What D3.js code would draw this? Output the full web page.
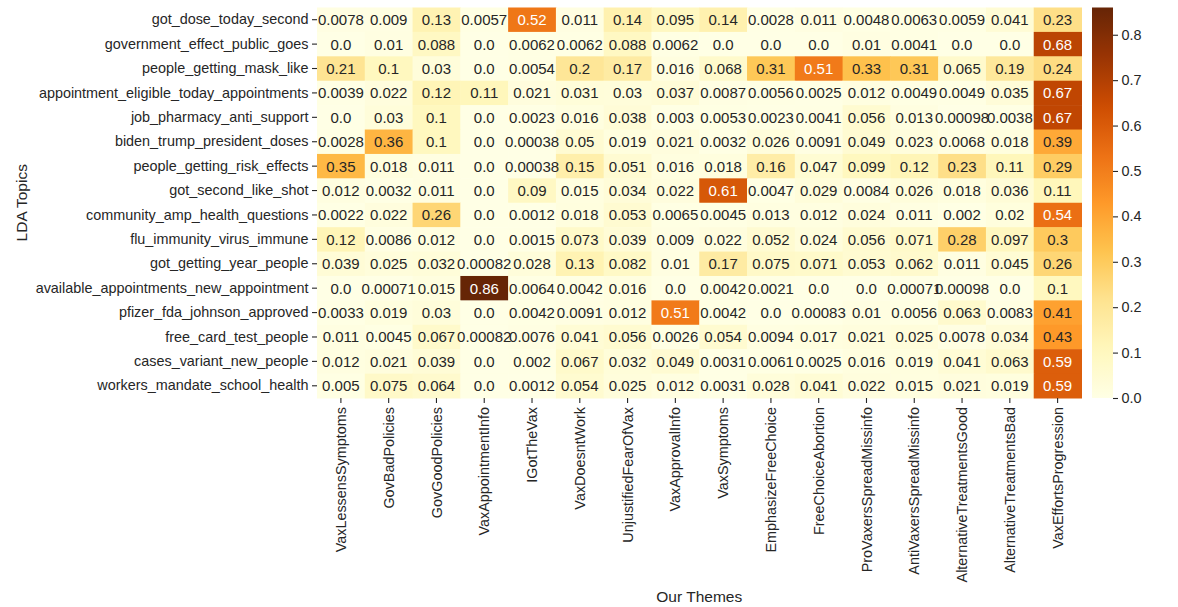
<!DOCTYPE html>
<html>
<head>
<meta charset="utf-8">
<script src="https://cdn.jsdelivr.net/npm/d3@7"></script>
<style>
  html, body { margin: 0; padding: 0; background: #fff; }
  svg { display: block; font-family: "Liberation Sans", Arial, sans-serif; }
</style>
</head>
<body>
<svg id="chart" width="1178" height="607"></svg>
<script>
const themes = ["VaxLessensSymptoms","GovBadPolicies","GovGoodPolicies","VaxAppointmentInfo","IGotTheVax","VaxDoesntWork","UnjustifiedFearOfVax","VaxApprovalInfo","VaxSymptoms","EmphasizeFreeChoice","FreeChoiceAbortion","ProVaxersSpreadMissinfo","AntiVaxersSpreadMissinfo","AlternativeTreatmentsGood","AlternativeTreatmentsBad","VaxEffortsProgression"];

const topics = ["got_dose_today_second","government_effect_public_goes","people_getting_mask_like","appointment_eligible_today_appointments","job_pharmacy_anti_support","biden_trump_president_doses","people_getting_risk_effects","got_second_like_shot","community_amp_health_questions","flu_immunity_virus_immune","got_getting_year_people","available_appointments_new_appointment","pfizer_fda_johnson_approved","free_card_test_people","cases_variant_new_people","workers_mandate_school_health"];

const got_dose_today_second = [0.0078,0.009,0.13,0.0057,0.52,0.011,0.14,0.095,0.14,0.0028,0.011,0.0048,0.0063,0.0059,0.041,0.23];
const government_effect_public_goes = [0.0,0.01,0.088,0.0,0.0062,0.0062,0.088,0.0062,0.0,0.0,0.0,0.01,0.0041,0.0,0.0,0.68];
const people_getting_mask_like = [0.21,0.1,0.03,0.0,0.0054,0.2,0.17,0.016,0.068,0.31,0.51,0.33,0.31,0.065,0.19,0.24];
const appointment_eligible_today_appointments = [0.0039,0.022,0.12,0.11,0.021,0.031,0.03,0.037,0.0087,0.0056,0.0025,0.012,0.0049,0.0049,0.035,0.67];
const job_pharmacy_anti_support = [0.0,0.03,0.1,0.0,0.0023,0.016,0.038,0.003,0.0053,0.0023,0.0041,0.056,0.013,0.00098,0.0038,0.67];
const biden_trump_president_doses = [0.0028,0.36,0.1,0.0,0.00038,0.05,0.019,0.021,0.0032,0.026,0.0091,0.049,0.023,0.0068,0.018,0.39];
const people_getting_risk_effects = [0.35,0.018,0.011,0.0,0.00038,0.15,0.051,0.016,0.018,0.16,0.047,0.099,0.12,0.23,0.11,0.29];
const got_second_like_shot = [0.012,0.0032,0.011,0.0,0.09,0.015,0.034,0.022,0.61,0.0047,0.029,0.0084,0.026,0.018,0.036,0.11];
const community_amp_health_questions = [0.0022,0.022,0.26,0.0,0.0012,0.018,0.053,0.0065,0.0045,0.013,0.012,0.024,0.011,0.002,0.02,0.54];
const flu_immunity_virus_immune = [0.12,0.0086,0.012,0.0,0.0015,0.073,0.039,0.009,0.022,0.052,0.024,0.056,0.071,0.28,0.097,0.3];
const got_getting_year_people = [0.039,0.025,0.032,0.00082,0.028,0.13,0.082,0.01,0.17,0.075,0.071,0.053,0.062,0.011,0.045,0.26];
const available_appointments_new_appointment = [0.0,0.00071,0.015,0.86,0.0064,0.0042,0.016,0.0,0.0042,0.0021,0.0,0.0,0.00071,0.00098,0.0,0.1];
const pfizer_fda_johnson_approved = [0.0033,0.019,0.03,0.0,0.0042,0.0091,0.012,0.51,0.0042,0.0,0.00083,0.01,0.0056,0.063,0.0083,0.41];
const free_card_test_people = [0.011,0.0045,0.067,0.00082,0.0076,0.041,0.056,0.0026,0.054,0.0094,0.017,0.021,0.025,0.0078,0.034,0.43];
const cases_variant_new_people = [0.012,0.021,0.039,0.0,0.002,0.067,0.032,0.049,0.0031,0.0061,0.0025,0.016,0.019,0.041,0.063,0.59];
const workers_mandate_school_health = [0.005,0.075,0.064,0.0,0.0012,0.054,0.025,0.012,0.0031,0.028,0.041,0.022,0.015,0.021,0.019,0.59];

const rows = [got_dose_today_second, government_effect_public_goes, people_getting_mask_like,
  appointment_eligible_today_appointments, job_pharmacy_anti_support, biden_trump_president_doses,
  people_getting_risk_effects, got_second_like_shot, community_amp_health_questions,
  flu_immunity_virus_immune, got_getting_year_people, available_appointments_new_appointment,
  pfizer_fda_johnson_approved, free_card_test_people, cases_variant_new_people, workers_mandate_school_health];

const colorbarTicks = [0.0,0.1,0.2,0.3,0.4,0.5,0.6,0.7,0.8];

// ---- layout ----
const svg = d3.select("#chart");
const pLeft = 317, pRight = 1081.5, pTop = 7.5, pBottom = 398;
const textColor = "#262626";

const cells = [];
rows.forEach((r, i) => r.forEach((v, j) => cells.push({row: topics[i], col: themes[j], v})));
const vmax = d3.max(cells, d => d.v);

const x = d3.scaleBand().domain(themes).range([pLeft, pRight]).padding(0);
const y = d3.scaleBand().domain(topics).range([pTop, pBottom]).padding(0);

const brewer = ["#ffffe5","#fff7bc","#fee391","#fec44f","#fe9929","#ec7014","#cc4c02","#993404","#662506"];
const color = d3.scaleLinear()
  .domain(brewer.map((_, i) => vmax * i / (brewer.length - 1)))
  .range(brewer)
  .interpolate(d3.interpolateRgb)
  .clamp(true);

function lum(c) {
  const rgb = d3.rgb(c);
  const f = u => { u /= 255; return u <= 0.03928 ? u / 12.92 : Math.pow((u + 0.055) / 1.055, 2.4); };
  return 0.2126 * f(rgb.r) + 0.7152 * f(rgb.g) + 0.0722 * f(rgb.b);
}
function fmt(v) {
  if (v === 0) return "0.0";
  return String(+v.toPrecision(2));
}

const g = svg.append("g");
g.selectAll("rect.cell").data(cells).join("rect")
  .attr("class", "cell")
  .attr("x", d => x(d.col))
  .attr("y", d => y(d.row))
  .attr("width", x.bandwidth() + 0.5)
  .attr("height", y.bandwidth() + 0.5)
  .attr("fill", d => color(d.v));

g.selectAll("text.ann").data(cells).join("text")
  .attr("class", "ann")
  .attr("x", d => x(d.col) + x.bandwidth() / 2)
  .attr("y", d => y(d.row) + y.bandwidth() / 2)
  .attr("text-anchor", "middle")
  .attr("dominant-baseline", "central")
  .attr("font-size", "15px")
  .attr("fill", d => lum(color(d.v)) > 0.408 ? textColor : "#ffffff")
  .text(d => fmt(d.v));

// axes
const yAxis = svg.append("g")
  .attr("transform", `translate(${pLeft},0)`)
  .call(d3.axisLeft(y).tickSize(5).tickPadding(3.5));
yAxis.select(".domain").remove();
yAxis.selectAll("line").attr("stroke", textColor).attr("stroke-width", 1.1);
yAxis.selectAll("text").attr("font-size", "14.4px").attr("fill", textColor)
  .attr("font-family", "Liberation Sans, Arial, sans-serif");

const xAxis = svg.append("g")
  .attr("transform", `translate(0,${pBottom})`)
  .call(d3.axisBottom(x).tickSize(5).tickPadding(4));
xAxis.select(".domain").remove();
xAxis.selectAll("line").attr("stroke", textColor).attr("stroke-width", 1.1);
xAxis.selectAll("text")
  .attr("font-size", "14.4px").attr("fill", textColor)
  .attr("font-family", "Liberation Sans, Arial, sans-serif")
  .attr("transform", "rotate(-90)")
  .attr("text-anchor", "end")
  .attr("dy", "0.35em")
  .attr("x", -9)
  .attr("y", 0);

// axis titles
svg.append("text")
  .attr("x", (pLeft + pRight) / 2).attr("y", 602)
  .attr("text-anchor", "middle").attr("font-size", "15.5px").attr("fill", textColor)
  .text("Our Themes");
svg.append("text")
  .attr("transform", `translate(27,${(pTop + pBottom) / 2}) rotate(-90)`)
  .attr("text-anchor", "middle").attr("font-size", "15.5px").attr("fill", textColor)
  .text("LDA Topics");

// colorbar
const cbX = 1092, cbW = 21;
const cbScale = d3.scaleLinear().domain([0, vmax]).range([pBottom, pTop]);
const defs = svg.append("defs");
const grad = defs.append("linearGradient").attr("id", "cbgrad")
  .attr("x1", 0).attr("y1", 1).attr("x2", 0).attr("y2", 0);
d3.range(0, 1.0001, 0.02).forEach(t => {
  grad.append("stop").attr("offset", t).attr("stop-color", color(t * vmax));
});
svg.append("rect")
  .attr("x", cbX).attr("y", pTop)
  .attr("width", cbW).attr("height", pBottom - pTop)
  .attr("fill", "url(#cbgrad)");
const cbAxis = svg.append("g")
  .attr("transform", `translate(${cbX + cbW},0)`)
  .call(d3.axisRight(cbScale).tickValues(colorbarTicks).tickFormat(d3.format(".1f")).tickSize(5).tickPadding(3.5));
cbAxis.select(".domain").remove();
cbAxis.selectAll("line").attr("stroke", textColor).attr("stroke-width", 1.1);
cbAxis.selectAll("text").attr("font-size", "14.4px").attr("fill", textColor)
  .attr("font-family", "Liberation Sans, Arial, sans-serif");
</script>
</body>
</html>
